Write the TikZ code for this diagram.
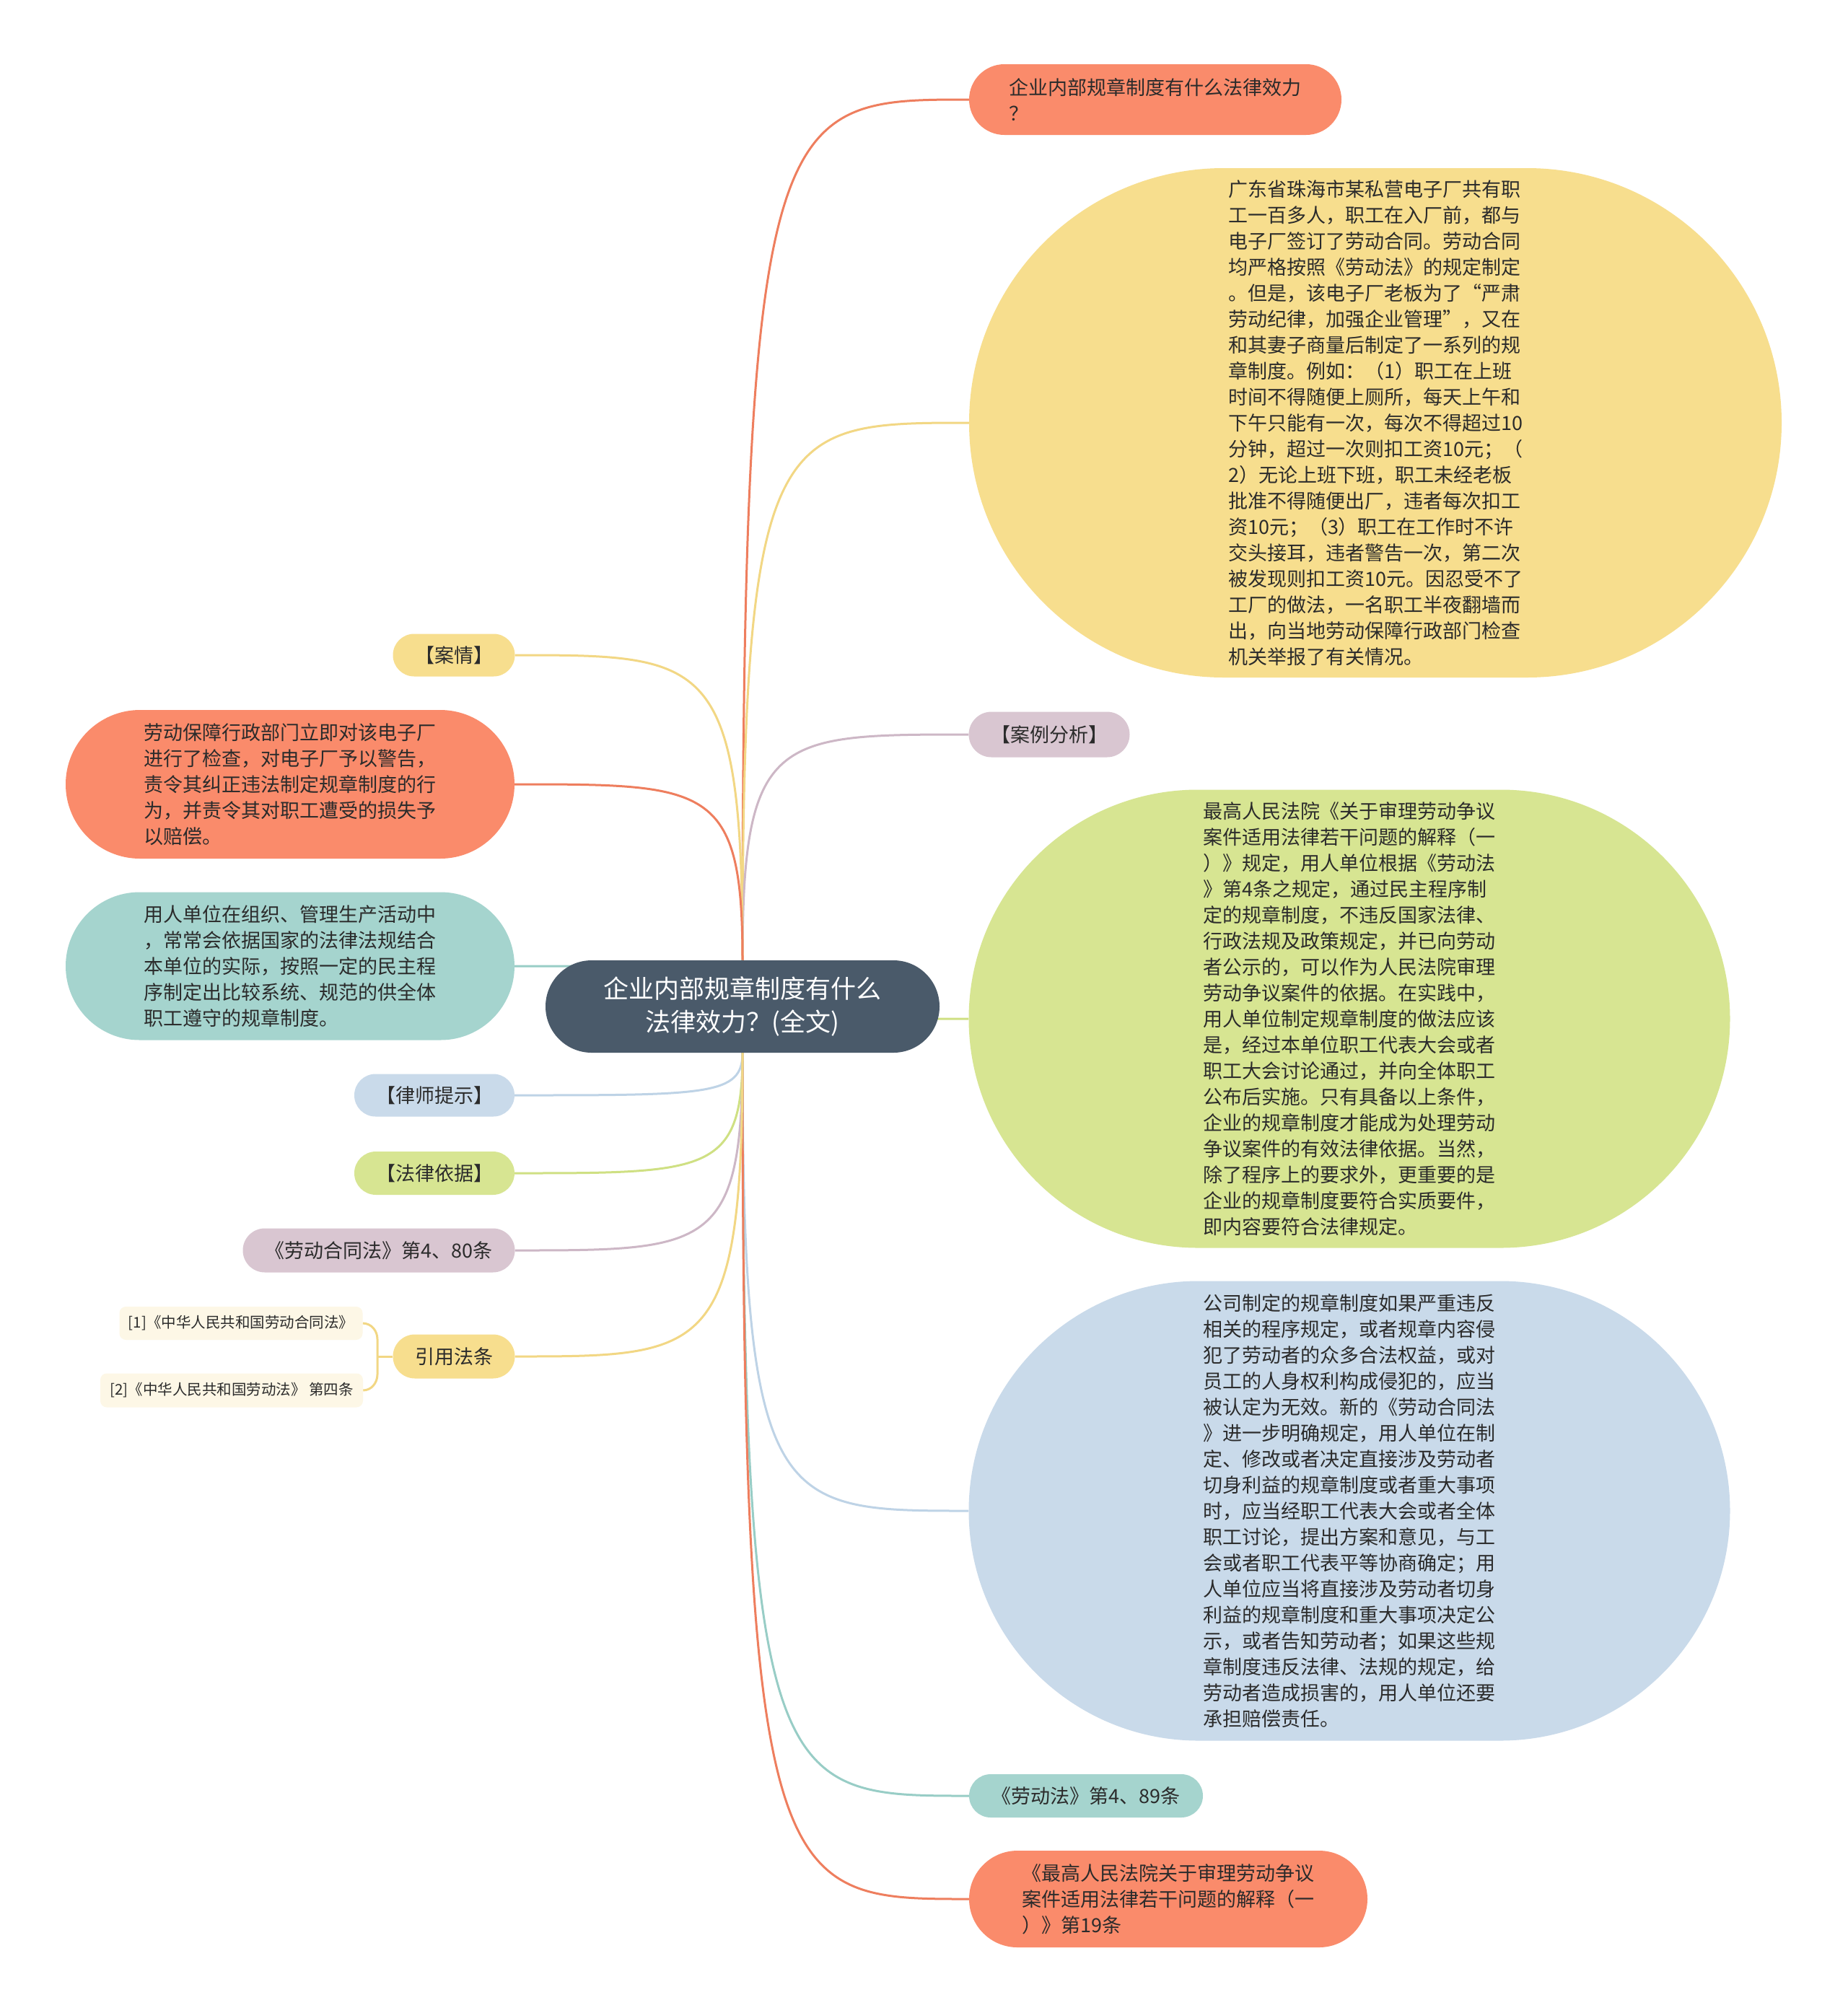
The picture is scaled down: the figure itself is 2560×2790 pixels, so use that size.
\documentclass[tikz,border=0pt]{standalone}
\usepackage{fontspec}
\newfontfamily\cjk{Noto Sans CJK SC}
\usetikzlibrary{calc}
\pgfdeclarelayer{bg}
\pgfsetlayers{bg,main}
\definecolor{cOrange}{HTML}{FA8B6B}
\definecolor{cYellow}{HTML}{F7DE8E}
\definecolor{cMauve}{HTML}{D9C6D1}
\definecolor{cGreen}{HTML}{D7E592}
\definecolor{cBlue}{HTML}{C9DAEA}
\definecolor{cTeal}{HTML}{A5D4CE}
\definecolor{cCream}{HTML}{FDF7E6}
\definecolor{cCenter}{HTML}{4A5A6A}
\definecolor{cText}{HTML}{2B2B2B}
\definecolor{lOrange}{HTML}{EE7E5E}
\definecolor{lYellow}{HTML}{F2D784}
\definecolor{lMauve}{HTML}{CDB7C6}
\definecolor{lGreen}{HTML}{CFE083}
\definecolor{lBlue}{HTML}{BED3E6}
\definecolor{lTeal}{HTML}{98CDC6}
\newcommand{\linkto}[3]{\draw[conn, #1] (C) .. controls (C |- #2.#3) and ($(C |- #2.#3)!0.15!(#2.#3)$) .. (#2.#3);}
\begin{document}
\begin{tikzpicture}[x=1pt,y=-1pt,
  pill/.style={rectangle, inner sep=0pt, align=left, text=cText,
    font=\cjk\fontsize{27}{36}\selectfont},
  small/.style={rectangle, inner sep=0pt, align=left, text=cText, fill=cCream,
    rounded corners=9pt, font=\cjk\fontsize{20.5}{24}\selectfont},
  conn/.style={line width=3pt}]
\useasboundingbox (0,0) rectangle (2560,2790);

% center
\node[rectangle, inner sep=0pt, fill=cCenter, minimum width=546pt, minimum height=128pt,
  rounded corners=64pt, align=center, text=white, font=\cjk\fontsize{35}{46}\selectfont]
  (C) at (1029,1395) {企业内部规章制度有什么\\法律效力？(全文)};

% right side
\node[pill, fill=cOrange, minimum width=516pt, minimum height=98pt, rounded corners=49pt]
  (r1) at (1601,138) {企业内部规章制度有什么法律效力\\？};
\node[pill, fill=cYellow, minimum width=1126pt, minimum height=706pt, rounded corners=353pt]
  (r2) at (1906,586) {广东省珠海市某私营电子厂共有职\\工一百多人，职工在入厂前，都与\\电子厂签订了劳动合同。劳动合同\\均严格按照《劳动法》的规定制定\\。但是，该电子厂老板为了“严肃\\劳动纪律，加强企业管理”，又在\\和其妻子商量后制定了一系列的规\\章制度。例如：（1）职工在上班\\时间不得随便上厕所，每天上午和\\下午只能有一次，每次不得超过10\\分钟，超过一次则扣工资10元；（\\2）无论上班下班，职工未经老板\\批准不得随便出厂，违者每次扣工\\资10元；（3）职工在工作时不许\\交头接耳，违者警告一次，第二次\\被发现则扣工资10元。因忍受不了\\工厂的做法，一名职工半夜翻墙而\\出，向当地劳动保障行政部门检查\\机关举报了有关情况。};
\node[pill, fill=cMauve, minimum width=223pt, minimum height=63pt, rounded corners=31.5pt]
  (r3) at (1454,1018) {【案例分析】};
\node[pill, fill=cGreen, minimum width=1055pt, minimum height=635pt, rounded corners=317.5pt]
  (r4) at (1870,1412) {最高人民法院《关于审理劳动争议\\案件适用法律若干问题的解释（一\\）》规定，用人单位根据《劳动法\\》第4条之规定，通过民主程序制\\定的规章制度，不违反国家法律、\\行政法规及政策规定，并已向劳动\\者公示的，可以作为人民法院审理\\劳动争议案件的依据。在实践中，\\用人单位制定规章制度的做法应该\\是，经过本单位职工代表大会或者\\职工大会讨论通过，并向全体职工\\公布后实施。只有具备以上条件，\\企业的规章制度才能成为处理劳动\\争议案件的有效法律依据。当然，\\除了程序上的要求外，更重要的是\\企业的规章制度要符合实质要件，\\即内容要符合法律规定。};
\node[pill, fill=cBlue, minimum width=1055pt, minimum height=637pt, rounded corners=318.5pt]
  (r5) at (1870,2094) {公司制定的规章制度如果严重违反\\相关的程序规定，或者规章内容侵\\犯了劳动者的众多合法权益，或对\\员工的人身权利构成侵犯的，应当\\被认定为无效。新的《劳动合同法\\》进一步明确规定，用人单位在制\\定、修改或者决定直接涉及劳动者\\切身利益的规章制度或者重大事项\\时，应当经职工代表大会或者全体\\职工讨论，提出方案和意见，与工\\会或者职工代表平等协商确定；用\\人单位应当将直接涉及劳动者切身\\利益的规章制度和重大事项决定公\\示，或者告知劳动者；如果这些规\\章制度违反法律、法规的规定，给\\劳动者造成损害的，用人单位还要\\承担赔偿责任。};
\node[pill, fill=cTeal, minimum width=324pt, minimum height=60pt, rounded corners=30pt]
  (r6) at (1505,2489) {《劳动法》第4、89条};
\node[pill, fill=cOrange, minimum width=552pt, minimum height=134pt, rounded corners=67pt]
  (r7) at (1619,2632) {《最高人民法院关于审理劳动争议\\案件适用法律若干问题的解释（一\\）》第19条};

% left side
\node[pill, fill=cYellow, minimum width=169pt, minimum height=59pt, rounded corners=29.5pt]
  (l1) at (629,908) {【案情】};
\node[pill, fill=cOrange, minimum width=622pt, minimum height=206pt, rounded corners=103pt]
  (l2) at (402,1087) {劳动保障行政部门立即对该电子厂\\进行了检查，对电子厂予以警告，\\责令其纠正违法制定规章制度的行\\为，并责令其对职工遭受的损失予\\以赔偿。};
\node[pill, fill=cTeal, minimum width=622pt, minimum height=205pt, rounded corners=102.5pt]
  (l3) at (402,1339) {用人单位在组织、管理生产活动中\\，常常会依据国家的法律法规结合\\本单位的实际，按照一定的民主程\\序制定出比较系统、规范的供全体\\职工遵守的规章制度。};
\node[pill, fill=cBlue, minimum width=222pt, minimum height=59pt, rounded corners=29.5pt]
  (l4) at (602,1518) {【律师提示】};
\node[pill, fill=cGreen, minimum width=222pt, minimum height=60pt, rounded corners=30pt]
  (l5) at (602,1626) {【法律依据】};
\node[pill, fill=cMauve, minimum width=377pt, minimum height=61pt, rounded corners=30.5pt]
  (l6) at (525,1733) {《劳动合同法》第4、80条};
\node[pill, fill=cYellow, minimum width=169pt, minimum height=61pt, rounded corners=30.5pt]
  (l7) at (629,1880) {引用法条};
\node[small, minimum width=337pt, minimum height=46pt] (c1) at (334,1834) {[1]《中华人民共和国劳动合同法》};
\node[small, minimum width=364pt, minimum height=47pt] (c2) at (321,1927) {[2]《中华人民共和国劳动法》 第四条};
\coordinate (b0) at (523,1880);
\coordinate (b1) at (523,1856);
\coordinate (b2) at (523,1905);

\begin{pgfonlayer}{bg}
\fill[white] (0,0) rectangle (2560,2790);
\linkto{lOrange}{r1}{west}
\linkto{lYellow}{r2}{west}
\linkto{lMauve}{r3}{west}
\linkto{lGreen}{r4}{west}
\linkto{lBlue}{r5}{west}
\linkto{lTeal}{r6}{west}
\linkto{lOrange}{r7}{west}
\linkto{lYellow}{l1}{east}
\linkto{lOrange}{l2}{east}
\linkto{lTeal}{l3}{east}
\linkto{lBlue}{l4}{east}
\linkto{lGreen}{l5}{east}
\linkto{lMauve}{l6}{east}
\linkto{lYellow}{l7}{east}
\draw[conn, lYellow] (l7.west) -- (b0);
\draw[conn, lYellow] (c1.east) to[out=0,in=90] (b1) -- (b2) to[out=-90,in=0] (c2.east);
\end{pgfonlayer}
\end{tikzpicture}
\end{document}
